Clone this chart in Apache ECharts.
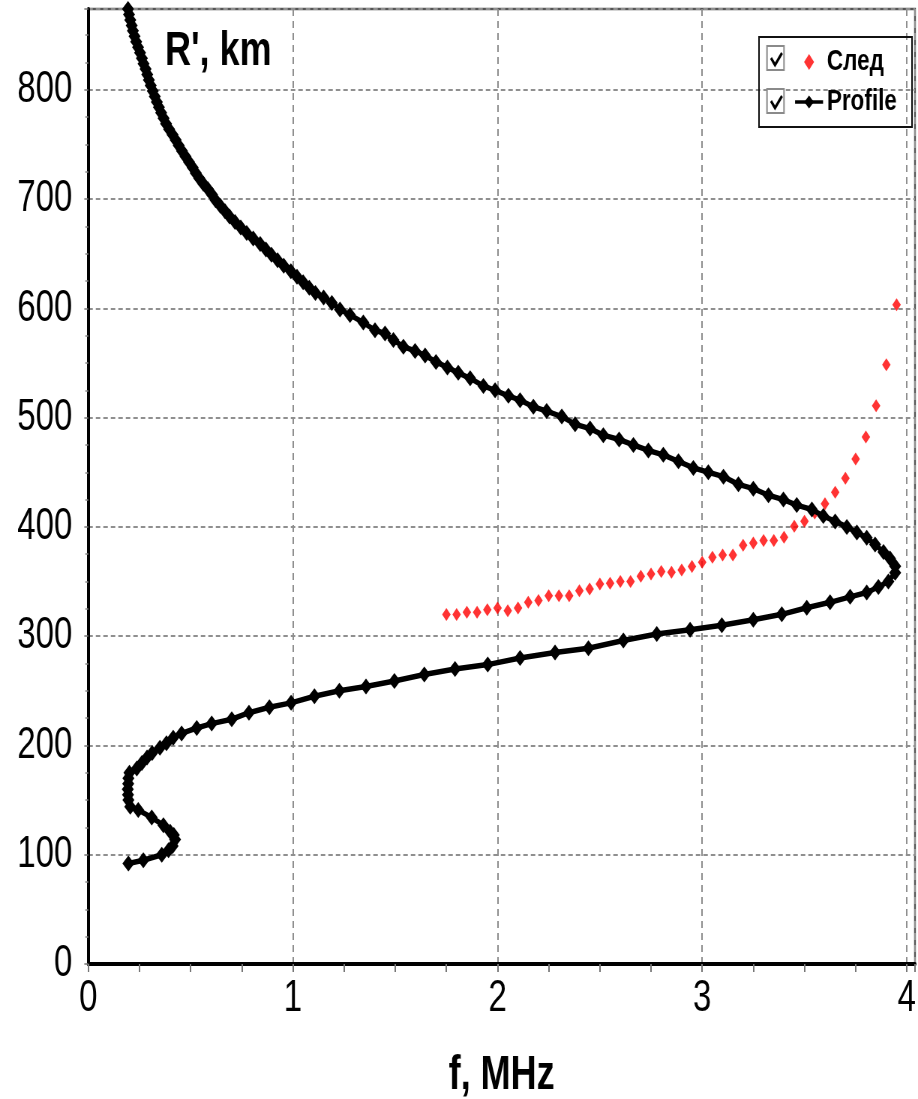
<!DOCTYPE html>
<html>
<head>
<meta charset="utf-8">
<script src="https://cdn.jsdelivr.net/npm/echarts@6/dist/echarts.min.js"></script>
<style>
  html, body { margin: 0; padding: 0; background: #fff; overflow: hidden; width: 918px; height: 1099px; }
  /* The plot is laid out on a wider canvas and narrowed horizontally,
     giving the condensed lettering and tall diamond markers of the original figure. */
  #chart { width: 1224px; height: 1099px; transform: scaleX(0.75); transform-origin: 0 0; }
</style>
</head>
<body>
<div id="chart"></div>
<script>
// Trace ("След"): sounding frequency f (MHz) and virtual range R' (km)
const traceF = [1.75, 1.80, 1.85, 1.90, 1.95, 2.00, 2.05, 2.10, 2.15, 2.20,
                2.25, 2.30, 2.35, 2.40, 2.45, 2.50, 2.55, 2.60, 2.65, 2.70,
                2.75, 2.80, 2.85, 2.90, 2.95, 3.00, 3.05, 3.10, 3.15, 3.20,
                3.25, 3.30, 3.35, 3.40, 3.45, 3.50, 3.55, 3.60, 3.65, 3.70,
                3.75, 3.80, 3.85, 3.90, 3.95];
const traceR = [319.8, 319.8, 321.9, 321.9, 324.3, 325.9, 323.4, 325.9, 331.0, 332.6,
                337.1, 337.1, 337.1, 341.7, 343.2, 347.8, 348.4, 350.0, 350.0, 354.8,
                357.0, 359.1, 358.5, 360.6, 363.7, 367.6, 372.2, 374.4, 374.4, 383.2,
                385.4, 387.5, 387.5, 390.5, 400.6, 405.1, 412.8, 421.3, 431.7, 444.5,
                462.2, 482.3, 511.0, 548.5, 603.4];

// Model profile ("Profile"): plasma frequency f (MHz) against R' (km)
const profileF = [0.196, 0.269, 0.359, 0.392, 0.412, 0.424, 0.418, 0.400, 0.367, 0.310,
                  0.244, 0.205, 0.196, 0.194, 0.193, 0.195, 0.196, 0.201, 0.237, 0.262,
                  0.287, 0.312, 0.350, 0.382, 0.415, 0.456, 0.530, 0.603, 0.701, 0.785,
                  0.885, 0.991, 1.105, 1.227, 1.357, 1.496, 1.642, 1.792, 1.952, 2.110,
                  2.281, 2.444, 2.615, 2.778, 2.941, 3.096, 3.250, 3.389, 3.511, 3.625,
                  3.723, 3.804, 3.861, 3.910, 3.943, 3.943, 3.918, 3.886, 3.845, 3.804,
                  3.756, 3.707, 3.650, 3.592, 3.536, 3.462, 3.397, 3.324, 3.250, 3.177,
                  3.104, 3.030, 2.957, 2.884, 2.810, 2.737, 2.664, 2.594, 2.517, 2.452,
                  2.379, 2.314, 2.240, 2.175, 2.110, 2.053, 1.988, 1.931, 1.866, 1.808,
                  1.755, 1.699, 1.646, 1.597, 1.540, 1.491, 1.450, 1.401, 1.344, 1.279,
                  1.230, 1.190, 1.150, 1.110, 1.080, 1.050, 1.020, 0.990, 0.955, 0.925,
                  0.895, 0.868, 0.840, 0.806, 0.774, 0.745, 0.717, 0.690, 0.668, 0.645,
                  0.622, 0.605, 0.585, 0.562, 0.542, 0.525, 0.510, 0.492, 0.475, 0.458,
                  0.442, 0.427, 0.412, 0.395, 0.380, 0.368, 0.356, 0.345, 0.335, 0.325,
                  0.315, 0.305, 0.296, 0.288, 0.280, 0.270, 0.262, 0.253, 0.243, 0.234,
                  0.226, 0.218, 0.212, 0.205, 0.199, 0.194];
const profileR = [92, 95, 100, 104, 108, 114, 118, 121, 127, 134,
                  141, 144, 150, 155, 160, 165, 170, 175, 179, 184,
                  189, 193, 198, 202, 207, 211, 216, 220, 224, 230,
                  235, 239, 245, 250, 254, 259, 265, 270, 274, 280,
                  285, 289, 296, 302, 306, 310, 315, 320, 326, 331,
                  336, 340, 345, 350, 358, 364, 371, 377, 384, 390,
                  395, 400, 405, 410, 416, 420, 425, 429, 435, 439,
                  446, 450, 454, 460, 466, 470, 475, 480, 484, 490,
                  494, 501, 506, 510, 516, 520, 525, 529, 536, 541,
                  546, 551, 557, 561, 565, 571, 577, 580, 587, 594,
                  599, 605, 610, 614, 619, 624, 629, 634, 639, 644,
                  649, 654, 659, 664, 669, 674, 679, 684, 689, 694,
                  699, 704, 709, 714, 719, 724, 729, 734, 739, 744,
                  749, 754, 759, 764, 769, 774, 779, 784, 789, 794,
                  799, 804, 809, 814, 819, 824, 829, 834, 839, 844,
                  849, 854, 859, 864, 869, 874];

// Axis ranges and tick steps
const xRange = [0, 4.04];
const xStep = 1;
const yRange = [0, 874];
const yStep = 100;

const legendNames = ['След', 'Profile'];
const xTitle = 'f, MHz';
const yTitle = "R', km";

const FONT = "'Liberation Sans', Arial, sans-serif";
// Horizontal narrowing applied to the chart element (see the stylesheet)
const SQUEEZE = 0.75;
const hx = v => v / SQUEEZE;   // on-screen horizontal size -> layout size

const chart = echarts.init(document.getElementById('chart'), null, { renderer: 'canvas' });

const tickFormatter = step => v => (Math.abs(v / step - Math.round(v / step)) < 1e-9 ? String(Math.round(v)) : '');

const checkbox = (x, y) => [
  { type: 'rect', z: 10, shape: { x: hx(x), y: y, width: hx(17), height: 24 },
    style: { fill: '#fff', stroke: '#8a8a8a', lineWidth: 2 } },
  { type: 'polyline', z: 11,
    shape: { points: [[hx(x + 4), y + 12], [hx(x + 8), y + 19], [hx(x + 15), y + 7]] },
    style: { fill: 'none', stroke: '#000', lineWidth: 3 } }
];

const option = {
  animation: false,
  backgroundColor: '#ffffff',
  textStyle: { fontFamily: FONT },
  grid: {
    left: hx(88.3), right: hx(3), top: 9, bottom: 135,
    show: true, borderColor: '#555', borderWidth: 2.4,
    backgroundColor: 'transparent',
    containLabel: false,
    outerBoundsMode: 'none'
  },
  legend: {
    orient: 'vertical',
    left: hx(790), top: 42,
    itemGap: 10, itemWidth: hx(28), itemHeight: 16,
    selectedMode: false,
    textStyle: { fontFamily: FONT, fontSize: 30, fontWeight: 'bold', color: '#000' },
    data: [
      { name: legendNames[0], icon: 'path://M5,0L10,6L5,12L0,6Z', itemStyle: { color: '#ff0000' } },
      { name: legendNames[1], lineStyle: { color: '#000', width: 3.5 }, itemStyle: { color: '#000' } }
    ]
  },
  graphic: [
    { type: 'rect', z: 10, shape: { x: hx(759), y: 37, width: hx(153), height: 90 },
      style: { fill: 'none', stroke: '#111', lineWidth: 2 } },
    ...checkbox(767, 46),
    ...checkbox(767, 89)
  ],
  xAxis: {
    type: 'value',
    min: xRange[0], max: xRange[1], interval: xStep,
    name: xTitle,
    nameLocation: 'middle',
    nameGap: 88,
    nameTextStyle: { fontFamily: FONT, fontSize: 48, fontWeight: 'bold', color: '#000' },
    axisLine: { show: true, onZero: false, lineStyle: { color: '#000', width: 4 } },
    axisTick: { show: true, inside: false, length: 8, lineStyle: { color: '#777', width: 2 } },
    minorTick: { show: true, splitNumber: 4, length: 8, lineStyle: { color: '#777', width: 2 } },
    axisLabel: { margin: 13, fontFamily: FONT, fontSize: 44, color: '#000', formatter: tickFormatter(xStep) },
    splitLine: { show: true, lineStyle: { color: '#8f8f8f', width: 2, type: [7, 5] } },
    minorSplitLine: { show: false }
  },
  yAxis: {
    type: 'value',
    min: yRange[0], max: yRange[1], interval: yStep,
    name: yTitle,
    nameLocation: 'end',
    nameGap: -19,
    nameTextStyle: { fontFamily: FONT, fontSize: 48, fontWeight: 'bold', color: '#000',
                     align: 'left', verticalAlign: 'top', padding: [0, 0, 0, hx(165 - 88.3)] },
    axisLine: { show: true, lineStyle: { color: '#000', width: 4 } },
    axisTick: { show: true, inside: false, length: hx(4), lineStyle: { color: '#777', width: 1.5 } },
    minorTick: { show: true, splitNumber: 4, length: hx(3), lineStyle: { color: '#888', width: 1.5 } },
    axisLabel: { margin: hx(16), fontFamily: FONT, fontSize: 44, color: '#000', formatter: tickFormatter(yStep) },
    splitLine: { show: true, lineStyle: { color: '#8f8f8f', width: 2, type: [6, 4] } }
  },
  series: [
    {
      name: legendNames[0],
      type: 'scatter',
      data: traceF.map((f, i) => [f, traceR[i]]),
      symbol: 'diamond',
      symbolSize: [hx(8.5), 13],
      itemStyle: { color: '#ff0000' },
      z: 2
    },
    {
      name: legendNames[1],
      type: 'line',
      data: profileF.map((f, i) => [f, profileR[i]]),
      symbol: 'diamond',
      symbolSize: [hx(12), 16],
      showSymbol: true,
      showAllSymbol: true,
      smooth: false,
      lineStyle: { color: '#000', width: 5.5 },
      itemStyle: { color: '#000' },
      emphasis: { disabled: true },
      z: 3
    }
  ]
};

chart.setOption(option);
</script>
</body>
</html>
